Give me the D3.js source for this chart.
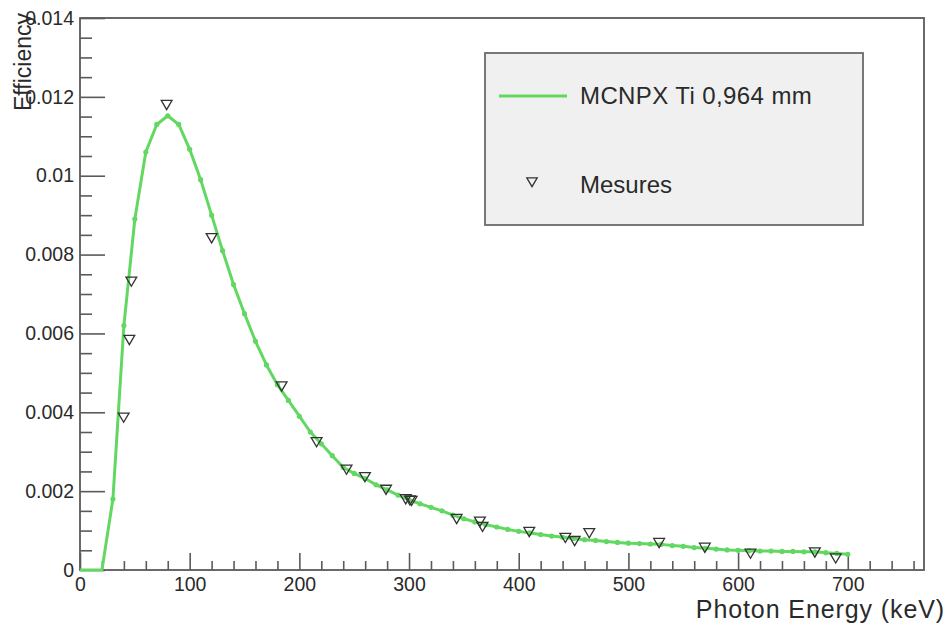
<!DOCTYPE html>
<html>
<head>
<meta charset="utf-8">
<script src="https://cdn.jsdelivr.net/npm/d3@7"></script>
<style>
  html, body { margin: 0; padding: 0; background: #ffffff; }
  svg { display: block; }
  text { font-family: "Liberation Sans", Arial, Helvetica, sans-serif; fill: #2a2a2a; }
</style>
</head>
<body>
<svg id="chart" width="948" height="623"></svg>
<script>
// ---- data ----
const simEnergy = [0,10,20,30,40,50,60,70,80,90,100,110,120,130,140,150,160,170,180,190,200,
  210,220,230,240,250,260,270,280,290,300,310,320,330,340,350,360,370,380,390,400,
  410,420,430,440,450,460,470,480,490,500,510,520,530,540,550,560,570,580,590,600,
  610,620,630,640,650,660,670,680,690,700];
const simEff = [0,0,0,0.0018,0.0062,0.0089,0.0106,0.0113,0.01152,0.0113,0.01067,0.0099,0.0090,0.0081,0.00724,0.0065,0.0058,0.0052,0.0047,0.0043,0.0039,
  0.0035,0.0032,0.0029,0.0026,0.00245,0.00232,0.00216,0.00203,0.0019,0.00178,0.00168,0.00159,0.0015,0.00139,0.0013,0.00122,0.00115,0.00109,0.00103,0.00098,
  0.00094,0.0009,0.00086,0.00083,0.0008,0.00077,0.00075,0.00072,0.0007,0.00068,0.00067,0.00066,0.00065,0.00062,0.0006,0.00057,0.00055,0.00053,0.00051,0.0005,
  0.00049,0.00048,0.00048,0.00047,0.00047,0.00046,0.00046,0.00044,0.00042,0.0004];
const measEnergy = [39.8,45,46.8,79,120,183.8,215.7,243,259.8,279,297,300.8,302.3,343.4,364.6,367,409.6,442.5,451,464.3,528,569.7,611.3,670,689];
const measEff = [0.00387,0.00584,0.00732,0.0118,0.00842,0.00466,0.00325,0.00255,0.00236,0.00204,0.0018,0.00177,0.00176,0.0013,0.00123,0.0011,0.00097,0.00082,0.00074,0.00094,0.00069,0.00057,0.00042,0.00045,0.0003];
const xTicks = [0,100,200,300,400,500,600,700];
const yTicks = [0,0.002,0.004,0.006,0.008,0.01,0.012,0.014];
const yTickLabels = ["0","0.002","0.004","0.006","0.008","0.01","0.012","0.014"];
const seriesNames = ["MCNPX Ti 0,964 mm","Mesures"];
const xTitle = "Photon Energy (keV)";
const yTitle = "Efficiency";

// ---- layout ----
const L = 80, R = 924, T = 18, B = 570;
const svg = d3.select("#chart");
const x = d3.scaleLinear().domain([0, 769.5]).range([L, R]);
const y = d3.scaleLinear().domain([0, 0.014]).range([B, T]);
const axisColor = "#5a5a5a";
const green = "#62d862";

// minor ticks
const xMinor = d3.range(0, 770, 20).filter(v => v % 100 !== 0);
const yMinor = d3.range(0, 0.01401, 0.0005).filter(v => Math.abs(v / 0.002 - Math.round(v / 0.002)) > 1e-6);

const gxMinor = svg.append("g").attr("transform", `translate(0,${B})`)
  .call(d3.axisBottom(x).tickValues(xMinor).tickSize(-9).tickFormat(""));
const gyMinor = svg.append("g").attr("transform", `translate(${L},0)`)
  .call(d3.axisLeft(y).tickValues(yMinor).tickSize(-12).tickFormat(""));
[gxMinor, gyMinor].forEach(g => { g.select(".domain").remove(); g.selectAll("line").attr("stroke", axisColor).attr("stroke-width", 1.6); });

const gx = svg.append("g").attr("transform", `translate(0,${B})`)
  .call(d3.axisBottom(x).tickValues(xTicks).tickSizeInner(-17).tickSizeOuter(0).tickPadding(7).tickFormat(d3.format("d")));
const gy = svg.append("g").attr("transform", `translate(${L},0)`)
  .call(d3.axisLeft(y).tickValues(yTicks).tickSizeInner(-25).tickSizeOuter(0).tickPadding(6)
    .tickFormat((d, i) => yTickLabels[i]));
[gx, gy].forEach(g => {
  g.select(".domain").remove();
  g.selectAll("line").attr("stroke", axisColor).attr("stroke-width", 1.6);
  g.selectAll("text").attr("font-size", 19.5).attr("fill", "#2a2a2a")
    .attr("font-family", "'Liberation Sans', Arial, sans-serif");
});

// frame
svg.append("rect").attr("x", L).attr("y", T).attr("width", R - L).attr("height", B - T)
  .attr("fill", "none").attr("stroke", axisColor).attr("stroke-width", 1.8);

// simulation curve
const simData = simEnergy.map((e, i) => [e, simEff[i]]);
svg.append("path").datum(simData)
  .attr("fill", "none").attr("stroke", green).attr("stroke-width", 3)
  .attr("stroke-linejoin", "round")
  .attr("d", d3.line().x(d => x(d[0])).y(d => y(d[1])));
svg.append("g").selectAll("circle").data(simData.filter(d => d[0] >= 30)).join("circle")
  .attr("cx", d => x(d[0])).attr("cy", d => y(d[1])).attr("r", 2.6).attr("fill", green);

// measurement markers (open down triangles)
const tri = (cx, cy, s) => `M${cx - s},${cy - s * 0.8}L${cx + s},${cy - s * 0.8}L${cx},${cy + s * 0.9}Z`;
svg.append("g").selectAll("path").data(measEnergy.map((e, i) => [e, measEff[i]])).join("path")
  .attr("d", d => tri(x(d[0]), y(d[1]), 5.4))
  .attr("fill", "none").attr("stroke", "#333").attr("stroke-width", 1.3);

// legend
svg.append("rect").attr("x", 485).attr("y", 53).attr("width", 378).attr("height", 172)
  .attr("fill", "#f0f0f0").attr("stroke", "#6a6a6a").attr("stroke-width", 1.8);
svg.append("line").attr("x1", 499).attr("x2", 567).attr("y1", 96).attr("y2", 96)
  .attr("stroke", green).attr("stroke-width", 3);
svg.append("text").attr("x", 580).attr("y", 104).attr("font-size", 24).attr("letter-spacing", 0.4).text(seriesNames[0]);
svg.append("path").attr("d", tri(532, 182, 5.2)).attr("fill", "none").attr("stroke", "#333").attr("stroke-width", 1.3);
svg.append("text").attr("x", 580).attr("y", 193).attr("font-size", 24).text(seriesNames[1]);

// axis titles
svg.append("text").attr("x", 945).attr("y", 618).attr("text-anchor", "end").attr("font-size", 25)
  .attr("letter-spacing", 0.9).text(xTitle);
svg.append("text").attr("transform", "translate(31,13) rotate(-90)").attr("text-anchor", "end")
  .attr("font-size", 23).text(yTitle);
</script>
</body>
</html>
